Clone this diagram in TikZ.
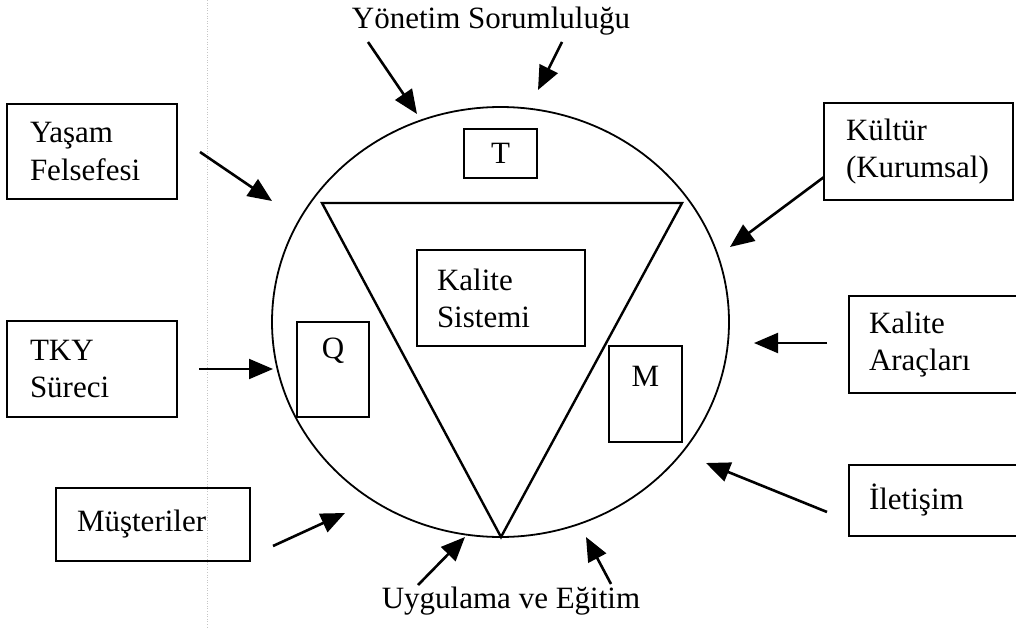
\documentclass[tikz,border=0pt]{standalone}
\usepackage{fontspec}
\setmainfont{Liberation Serif}
\usetikzlibrary{arrows.meta,shapes.geometric}
\begin{document}
\begin{tikzpicture}[x=1pt,y=-1pt,
  txt/.style={font=\fontsize{31}{37}\selectfont},
  box/.style={draw, line width=1.6pt, rectangle, inner ysep=0pt, txt, align=left},
  arr/.style={-{Triangle[length=24pt,width=20pt]}, line width=2.6pt},
  lbl/.style={txt, inner sep=0pt, anchor=center}]
\useasboundingbox (0,0) rectangle (1016,629);
% faint scan guide line
\draw[gray!45, dotted, line width=0.6pt] (207.5,0) -- (207.5,629);

% central ellipse and triangle
\node[draw, ellipse, line width=1.8pt, minimum width=457pt, minimum height=430pt, inner sep=0pt] (circ) at (500.5,322) {};
\coordinate (tl) at (322,203);
\coordinate (tr) at (682,203);
\coordinate (ap) at (501,537);
\draw[line width=2.4pt, line join=miter] (tl) -- (tr) -- (ap) -- cycle;

% inner boxes
\node[box, minimum width=73pt, minimum height=49pt, inner xsep=0pt] (T) at (500.5,153.5) {T};
\node[box, minimum width=168pt, minimum height=96pt, inner xsep=20pt, text width=128pt] (ks) at (501,298) {Kalite\\Sistemi};
\node[box, minimum width=72pt, minimum height=95pt, inner xsep=0pt,
      label={[lbl, yshift=-30pt]north:Q}] (Q) at (333,369.5) {};
\node[box, minimum width=73pt, minimum height=96pt, inner xsep=0pt,
      label={[lbl, yshift=-31pt]north:M}] (M) at (645.5,394) {};

% outer boxes
\node[box, minimum width=170pt, minimum height=95pt, inner xsep=23pt, text width=124pt] (yasam) at (92,151.5) {Yaşam\\Felsefesi};
\node[box, minimum width=170pt, minimum height=96pt, inner xsep=23pt, text width=124pt] (tky) at (92,369) {TKY\\Süreci};
\node[box, minimum width=194pt, minimum height=73pt, inner xsep=21pt, text width=152pt] (mus) at (153,524.5) {Müşteriler};
\node[box, minimum width=189pt, minimum height=97pt, inner xsep=22pt, text width=145pt] (kul) at (918.5,151.5) {Kültür\\(Kurumsal)};
\node[box, minimum width=191pt, minimum height=97pt, inner xsep=20pt, text width=151pt] (ka) at (944.5,344.5) {Kalite\\Araçları};
\node[box, minimum width=191pt, minimum height=71pt, inner xsep=20pt, text width=151pt] (il) at (944.5,500.5) {İletişim};

% free labels
\node[lbl] (yon) at (491,21) {Yönetim Sorumluluğu};
\node[lbl] (uyg) at (511,601) {Uygulama ve Eğitim};

% arrow end points
\coordinate (a1s) at (368,42);  \coordinate (a1e) at (417,114);
\coordinate (a2s) at (562,42);  \coordinate (a2e) at (538,90);
\coordinate (a3s) at (200,152); \coordinate (a3e) at (272,201);
\coordinate (a4s) at (824,177); \coordinate (a4e) at (730,247);
\coordinate (a5s) at (199,369); \coordinate (a5e) at (273,369);
\coordinate (a6s) at (827,343); \coordinate (a6e) at (754,343);
\coordinate (a7s) at (273,546); \coordinate (a7e) at (345,513);
\coordinate (a8s) at (827,512); \coordinate (a8e) at (706,463);
\coordinate (a9s) at (418,585); \coordinate (a9e) at (465,537);
\coordinate (a10s) at (611,584); \coordinate (a10e) at (586,537);

\draw[arr] (a1s) -- (a1e);
\draw[arr] (a2s) -- (a2e);
\draw[arr] (a3s) -- (a3e);
\draw[arr] (a4s) -- (a4e);
\draw[arr, line width=2pt] (a5s) -- (a5e);
\draw[arr, line width=2pt] (a6s) -- (a6e);
\draw[arr] (a7s) -- (a7e);
\draw[arr] (a8s) -- (a8e);
\draw[arr] (a9s) -- (a9e);
\draw[arr] (a10s) -- (a10e);
\end{tikzpicture}
\end{document}
